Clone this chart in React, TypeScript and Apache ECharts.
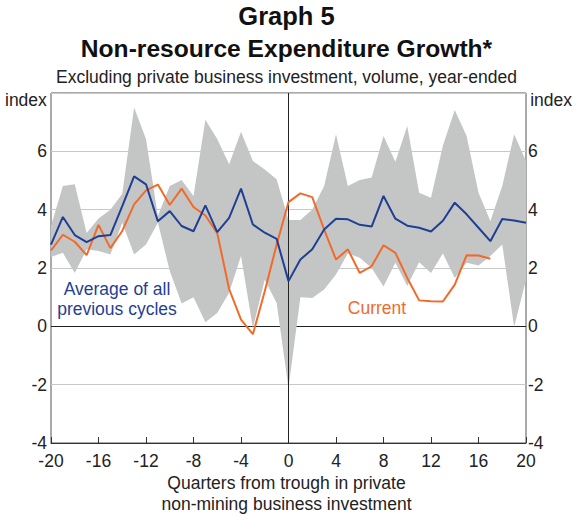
import React, { useEffect, useRef } from "react";
import * as echarts from "echarts";

const quarters = [-20,-19,-18,-17,-16,-15,-14,-13,-12,-11,-10,-9,-8,-7,-6,-5,-4,-3,-2,-1,0,1,2,3,4,5,6,7,8,9,10,11,12,13,14,15,16,17,18,19,20];

const averageCycles = [2.8,3.75,3.13,2.89,3.09,3.13,4.12,5.14,4.87,3.6,3.95,3.44,3.26,4.15,3.23,3.72,4.72,3.49,3.21,3.0,1.55,2.29,2.64,3.32,3.69,3.67,3.48,3.42,4.47,3.69,3.45,3.38,3.25,3.62,4.24,3.84,3.38,2.92,3.68,3.63,3.55];

const currentCycle = [2.6,3.14,2.9,2.44,3.48,2.68,3.27,4.18,4.66,4.86,4.16,4.72,4.09,3.8,3.19,1.28,0.23,-0.27,1.2,2.8,4.26,4.56,4.43,3.32,2.29,2.64,1.83,2.06,2.78,2.52,1.66,0.89,0.86,0.85,1.43,2.44,2.43,2.32];

const bandUpper = [3.44,4.81,4.87,3.2,3.7,4.0,4.55,7.5,6.42,3.78,4.81,5.02,4.47,7.08,6.42,5.56,6.67,5.67,5.38,5.04,3.65,3.65,4.01,4.81,6.59,4.81,5.02,5.1,6.53,5.64,6.87,4.58,4.41,6.19,7.42,6.53,4.58,3.61,4.81,6.59,5.67];

const bandLower = [2.38,2.52,1.83,2.64,2.58,2.46,3.55,2.46,2.81,3.55,1.9,0.78,1.0,0.14,0.46,1.15,2.41,-0.06,1.6,0.8,-2.12,1.0,0.97,1.26,1.78,2.5,2.35,2.0,1.37,2.18,1.38,2.2,1.83,2.5,1.66,2.18,2.09,2.41,2.81,-0.02,1.6];

const yTicks = [-4, -2, 0, 2, 4, 6];
const xTicks = [-20, -16, -12, -8, -4, 0, 4, 8, 12, 16, 20];

const FONT = '"Liberation Sans", Arial, Helvetica, sans-serif';
const FS = 17.5;
const BLUE = "#1f3f95";
const ORANGE = "#f26a2a";
const GREY_BAND = "#c4c6c6";

export default function App() {
  const ref = useRef<HTMLDivElement>(null);

  useEffect(() => {
    document.body.style.margin = "0";
    if (!ref.current) return;
    const chart = echarts.init(ref.current, undefined, { renderer: "svg" });

    const labelFmt = (v: number) => (yTicks.indexOf(v) >= 0 ? String(v) : "");

    const option: any = {
      animation: false,
      backgroundColor: "#ffffff",
      textStyle: { fontFamily: FONT },
      grid: {
        left: 51,
        right: 47,
        top: 93,
        bottom: 72,
        show: true,
        borderColor: "#555555",
        borderWidth: 1,
        backgroundColor: "transparent",
      },
      xAxis: {
        type: "value",
        min: -20,
        max: 20,
        interval: 4,
        axisLine: { show: true, onZero: false, lineStyle: { color: "#333333", width: 1 } },
        axisTick: { show: true, inside: true, length: 6, lineStyle: { color: "#333333" } },
        splitLine: { show: false },
        axisLabel: {
          color: "#222222",
          fontSize: FS,
          fontFamily: FONT,
          margin: 9,
          formatter: (v: number) => (xTicks.indexOf(v) >= 0 ? String(v) : ""),
        },
      },
      yAxis: [
        {
          type: "value",
          min: -4,
          max: 8,
          interval: 2,
          position: "left",
          axisLine: { show: false },
          axisTick: { show: false },
          splitLine: { show: true, lineStyle: { color: "#c8c8c8", width: 1 } },
          axisLabel: { color: "#222222", fontSize: FS, fontFamily: FONT, margin: 4, formatter: labelFmt },
        },
        {
          type: "value",
          min: -4,
          max: 8,
          interval: 2,
          position: "right",
          axisLine: { show: false },
          axisTick: { show: false },
          splitLine: { show: false },
          axisLabel: { color: "#222222", fontSize: FS, fontFamily: FONT, margin: 2, formatter: labelFmt },
        },
      ],
      series: [
        {
          name: "Range",
          type: "custom",
          z: 3,
          silent: true,
          data: quarters.map((q, i) => [q, bandLower[i], bandUpper[i]]),
          encode: { x: 0, y: [1, 2] },
          renderItem: (params: any, api: any) => {
            if (params.dataIndex !== 0) return null;
            const pts: number[][] = [];
            for (let i = 0; i < quarters.length; i++) pts.push(api.coord([quarters[i], bandUpper[i]]));
            for (let i = quarters.length - 1; i >= 0; i--) pts.push(api.coord([quarters[i], bandLower[i]]));
            return { type: "polygon", shape: { points: pts }, style: { fill: GREY_BAND, stroke: null } };
          },
        },
        {
          name: "Current",
          type: "line",
          z: 5,
          data: currentCycle.map((v, i) => [quarters[i], v]),
          symbol: "none",
          lineStyle: { color: ORANGE, width: 2 },
          itemStyle: { color: ORANGE },
          markLine: {
            silent: true,
            z: 2,
            symbol: "none",
            label: { show: false },
            lineStyle: { color: "#222222", width: 1, type: "solid" },
            data: [{ yAxis: 0 }],
          },
        },
        {
          name: "Average of all previous cycles",
          type: "line",
          z: 6,
          data: averageCycles.map((v, i) => [quarters[i], v]),
          symbol: "none",
          lineStyle: { color: BLUE, width: 2 },
          itemStyle: { color: BLUE },
          markLine: {
            silent: true,
            z: 4,
            symbol: "none",
            label: { show: false },
            lineStyle: { color: "#222222", width: 1, type: "solid" },
            data: [{ xAxis: 0 }],
          },
        },
      ],
      graphic: [
        { type: "text", left: "center", top: 3, style: { text: "Graph 5", font: `bold 25.5px ${FONT}`, fill: "#111111" } },
        { type: "text", left: "center", top: 36, style: { text: "Non-resource Expenditure Growth*", font: `bold 24.6px ${FONT}`, fill: "#111111" } },
        { type: "text", left: "center", top: 68, style: { text: "Excluding private business investment, volume, year-ended", font: `${FS}px ${FONT}`, fill: "#222222" } },
        { type: "text", left: 5, top: 91, style: { text: "index", font: `${FS}px ${FONT}`, fill: "#222222" } },
        { type: "text", right: 1, top: 91, style: { text: "index", font: `${FS}px ${FONT}`, fill: "#222222" } },
        { type: "text", left: "center", top: 474, style: { text: "Quarters from trough in private", font: `${FS}px ${FONT}`, fill: "#222222" } },
        { type: "text", left: "center", top: 495, style: { text: "non-mining business investment", font: `${FS}px ${FONT}`, fill: "#222222" } },
        { type: "text", x: 117, y: 289, style: { text: "Average of all", font: `${FS}px ${FONT}`, fill: BLUE, align: "center", verticalAlign: "middle" } },
        { type: "text", x: 117, y: 309, style: { text: "previous cycles", font: `${FS}px ${FONT}`, fill: BLUE, align: "center", verticalAlign: "middle" } },
        { type: "text", x: 377, y: 308, style: { text: "Current", font: `${FS}px ${FONT}`, fill: ORANGE, align: "center", verticalAlign: "middle" } },
      ],
    };

    chart.setOption(option);
    return () => chart.dispose();
  }, []);

  return <div ref={ref} style={{ width: 573, height: 515 }} />;
}
